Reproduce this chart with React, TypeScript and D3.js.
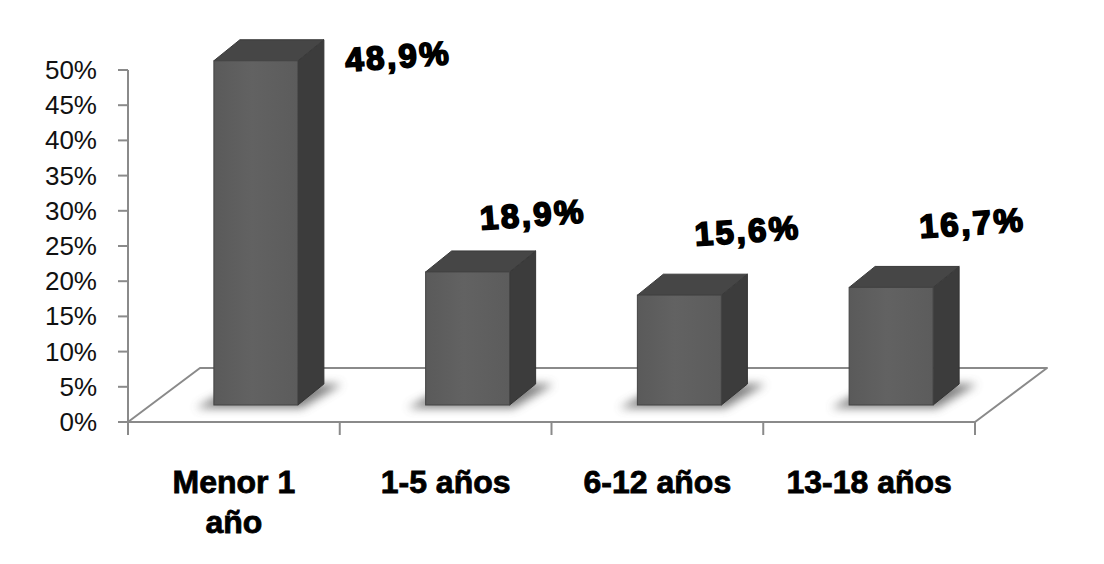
import React from "react";
import * as d3 from "d3";

// Age groups and their share of cases
const categories: string[][] = [["Menor 1", "año"], ["1-5 años"], ["6-12 años"], ["13-18 años"]];
const values: number[] = [0.489, 0.189, 0.156, 0.167];
const valueLabels: string[] = ["48,9%", "18,9%", "15,6%", "16,7%"];
const yTicks: number[] = [0, 0.05, 0.1, 0.15, 0.2, 0.25, 0.3, 0.35, 0.4, 0.45, 0.5];

const W = 1104;
const H = 564;

// plot frame
const axisX = 128;
const floorRight = 975;
const floorDX = 72; // floor depth, horizontal
const floorDY = 54; // floor depth, vertical
const barDepthX = 26;
const barDepthY = 21;
const barInsetX = 22; // how far the bar front sits behind the floor front edge
const barInsetY = 17;
const barWidth = 84;

// label offsets relative to bar front-top centre (first bar's label sits beside it)
const labelShift: [number, number][] = [[143, 7], [66, -46], [69, -53], [82, -53]];

export default function App() {
  const y = d3.scaleLinear().domain([0, 0.5]).range([422, 70]);
  const x = d3
    .scaleBand<number>()
    .domain(d3.range(categories.length))
    .range([axisX, floorRight])
    .paddingInner(0)
    .paddingOuter(0);
  const fmt = d3.format(".0%");
  const base = y(0);
  const barBase = base - barInsetY;

  const floor = [
    [axisX, base],
    [axisX + floorDX, base - floorDY],
    [floorRight + floorDX, base - floorDY],
    [floorRight, base],
  ]
    .map((p) => p.join(","))
    .join(" ");

  const catTicks = d3.range(categories.length + 1).map((i) => axisX + i * x.bandwidth());

  return (
    <svg width={W} height={H} style={{ position: "absolute", left: 0, top: 0, background: "#fff" }}>
      <defs>
        <filter id="soft" x="-50%" y="-200%" width="200%" height="500%">
          <feGaussianBlur stdDeviation="5" />
        </filter>
        <linearGradient id="front" x1="0" x2="1" y1="0" y2="0">
          <stop offset="0" stopColor="#5a5a5a" />
          <stop offset="0.45" stopColor="#626262" />
          <stop offset="1" stopColor="#5c5c5c" />
        </linearGradient>
      </defs>
      <rect width={W} height={H} fill="#fff" />

      {/* floor */}
      <polygon points={floor} fill="#fff" stroke="#8a8a8a" strokeWidth={2} strokeLinejoin="round" />

      {/* value axis */}
      <line x1={axisX} x2={axisX} y1={y(0.5)} y2={base} stroke="#8a8a8a" strokeWidth={2} />
      {yTicks.map((t) => (
        <g key={t}>
          <line x1={axisX - 10} x2={axisX} y1={y(t)} y2={y(t)} stroke="#8a8a8a" strokeWidth={2} />
          <text
            x={97}
            y={y(t)}
            textAnchor="end"
            dominantBaseline="central"
            fontFamily="'Liberation Sans', Arial, sans-serif"
            fontSize={26}
            fill="#111"
          >
            {fmt(t)}
          </text>
        </g>
      ))}

      {/* category axis */}
      {catTicks.map((cx, i) => (
        <line key={i} x1={cx} x2={cx} y1={base} y2={base + 13} stroke="#8a8a8a" strokeWidth={2} />
      ))}
      <line x1={axisX} x2={floorRight} y1={base} y2={base} stroke="#8a8a8a" strokeWidth={2} />

      {/* bars */}
      {values.map((v, i) => {
        const c = (x(i) as number) + x.bandwidth() / 2;
        const x0 = c + barInsetX - barWidth / 2;
        const x1 = x0 + barWidth;
        const yt = y(v) - barInsetY;
        const shadow = [
          [x0 - 18, barBase + 3],
          [x0 + barDepthX, barBase - barDepthY],
          [x1 + barDepthX + 18, barBase - barDepthY],
          [x1 + 4, barBase + 3],
        ]
          .map((p) => p.join(","))
          .join(" ");
        const top = [
          [x0, yt],
          [x0 + barDepthX, yt - barDepthY],
          [x1 + barDepthX, yt - barDepthY],
          [x1, yt],
        ]
          .map((p) => p.join(","))
          .join(" ");
        const side = [
          [x1, yt],
          [x1 + barDepthX, yt - barDepthY],
          [x1 + barDepthX, barBase - barDepthY],
          [x1, barBase],
        ]
          .map((p) => p.join(","))
          .join(" ");
        return (
          <g key={i}>
            <polygon points={shadow} fill="#555" opacity={0.75} filter="url(#soft)" />
            <polygon points={side} fill="#3c3c3c" stroke="#333" strokeWidth={1} strokeLinejoin="round" />
            <polygon points={top} fill="#464646" stroke="#3a3a3a" strokeWidth={1} strokeLinejoin="round" />
            <rect x={x0} y={yt} width={barWidth} height={barBase - yt} fill="url(#front)" stroke="#444" strokeWidth={1} />
          </g>
        );
      })}

      {/* value labels */}
      {values.map((v, i) => {
        const c = (x(i) as number) + x.bandwidth() / 2 + barInsetX;
        const lx = c + labelShift[i][0];
        const ly = y(v) - barInsetY + labelShift[i][1];
        return (
          <text
            key={i}
            x={lx}
            y={ly}
            textAnchor="middle"
            transform={`rotate(-4 ${lx} ${ly})`}
            fontFamily="'Liberation Sans', Arial, sans-serif"
            fontWeight={700}
            fontSize={33}
            letterSpacing={2.5}
            stroke="#000"
            strokeWidth={1.8}
            fill="#000"
          >
            {valueLabels[i]}
          </text>
        );
      })}

      {/* category labels */}
      {categories.map((lines, i) => {
        const c = (x(i) as number) + x.bandwidth() / 2;
        return (
          <text
            key={i}
            textAnchor="middle"
            fontFamily="'Liberation Sans', Arial, sans-serif"
            fontWeight={700}
            fontSize={32}
            fill="#000"
            stroke="#000"
            strokeWidth={0.8}
          >
            {lines.map((ln, j) => (
              <tspan key={j} x={c} y={493 + j * 40}>
                {ln}
              </tspan>
            ))}
          </text>
        );
      })}
    </svg>
  );
}
